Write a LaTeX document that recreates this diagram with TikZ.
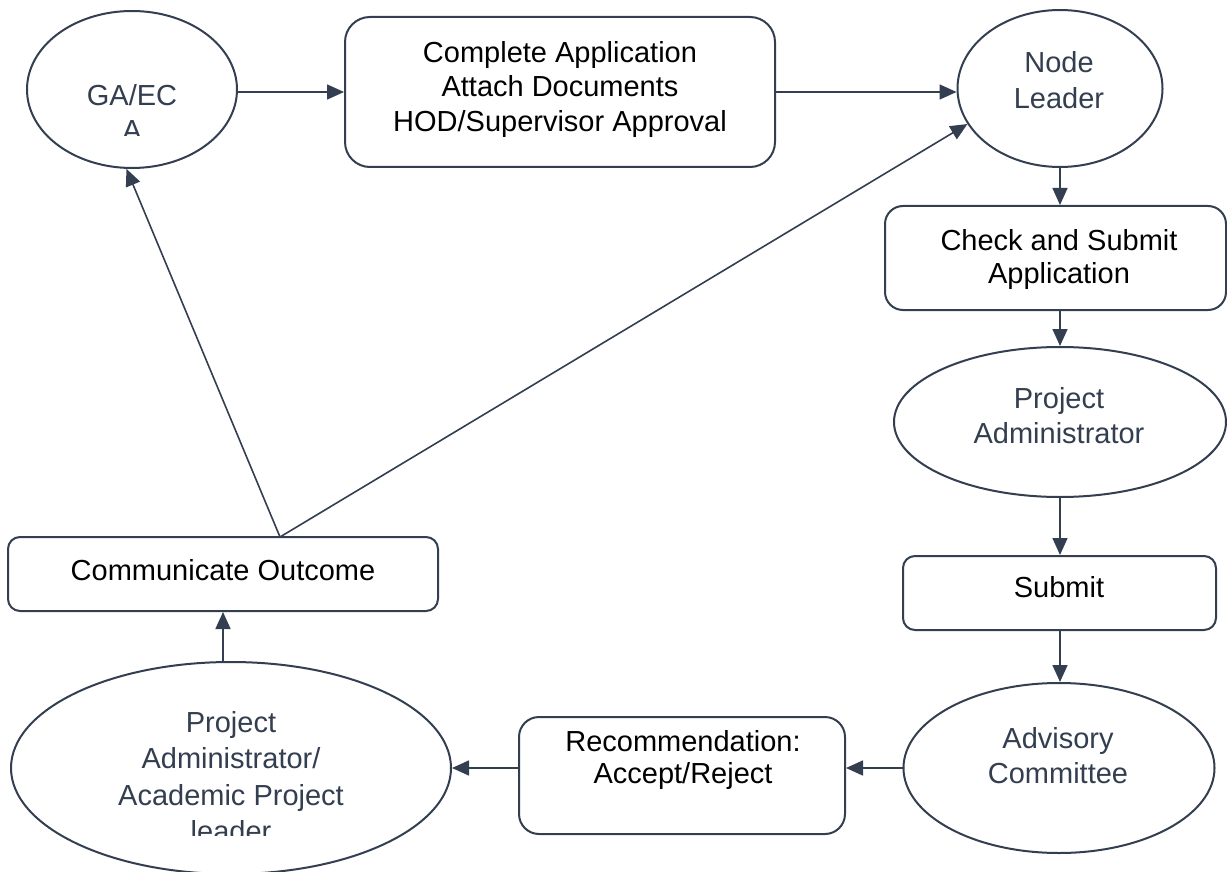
\documentclass[tikz,border=0pt]{standalone}
\usepackage{fontspec}
\setmainfont{Liberation Sans}
\usetikzlibrary{shapes.geometric,arrows.meta}
\definecolor{ln}{HTML}{333F50}
\definecolor{etxt}{HTML}{333F50}
\begin{document}
\begin{tikzpicture}[x=1pt,y=-1pt,
  box/.style={draw=ln, line width=2pt, rectangle, inner sep=0pt, fill=white},
  ell/.style={draw=ln, line width=2pt, ellipse, inner sep=0pt, fill=white},
  arr/.style={draw=ln, line width=1.6pt, -{Triangle[length=17pt,width=15pt]}},
  tx/.style={anchor=base, inner sep=0pt, font=\fontsize{29}{34}\selectfont},
  etx/.style={tx, text=etxt}]
\useasboundingbox (0,0) rectangle (1227,872);

% shapes
\node[ell, minimum width=210pt, minimum height=157pt] (ga) at (132,89.5) {};
\node[box, rounded corners=25pt, minimum width=430pt, minimum height=150pt] (app) at (560,92) {};
\node[ell, minimum width=205pt, minimum height=157pt] (nl) at (1060,88.5) {};
\node[box, rounded corners=18pt, minimum width=341pt, minimum height=104pt] (chk) at (1055.5,258) {};
\node[ell, minimum width=332pt, minimum height=150pt] (pa) at (1060,422) {};
\node[box, rounded corners=12pt, minimum width=313pt, minimum height=74pt] (sub) at (1059.5,593) {};
\node[ell, minimum width=311pt, minimum height=170pt] (adv) at (1059,768) {};
\node[box, rounded corners=20pt, minimum width=326pt, minimum height=117pt] (rec) at (682,775.5) {};
\node[ell, minimum width=440pt, minimum height=212pt] (pa2) at (231,768) {};
\node[box, rounded corners=12pt, minimum width=430pt, minimum height=74pt] (co) at (223,574) {};

% texts
\node[etx] (gat1) at (132,106) {GA/EC};
\begin{scope}
  \clip (60,100) rectangle (200,135.5);
  \node[etx] (gat2) at (132,141) {A};
\end{scope}
\node[tx] (appt1) at (560,63) {Complete Application};
\node[tx] (appt2) at (560,97) {Attach Documents};
\node[tx] (appt3) at (560,132) {HOD/Supervisor Approval};
\node[etx] (nlt1) at (1059,73) {Node};
\node[etx] (nlt2) at (1059,109) {Leader};
\node[tx] (chkt1) at (1059,250) {Check and Submit};
\node[tx] (chkt2) at (1059,283) {Application};
\node[etx] (pat1) at (1059,408) {Project};
\node[etx] (pat2) at (1059,443) {Administrator};
\node[tx] (subt) at (1059,597) {Submit};
\node[etx] (advt1) at (1058,748) {Advisory};
\node[etx] (advt2) at (1058,783) {Committee};
\node[tx] (rect1) at (683,751) {Recommendation:};
\node[tx] (rect2) at (683,783) {Accept/Reject};
\node[tx] (cot) at (223,580) {Communicate Outcome};
\node[etx] (pa2t1) at (231,732) {Project};
\node[etx] (pa2t2) at (231,768) {Administrator/};
\node[etx] (pa2t3) at (231,805) {Academic Project};
\begin{scope}
  \clip (100,800) rectangle (360,835);
  \node[etx] (pa2t4) at (231,841.5) {leader};
\end{scope}

% connectors
\coordinate (cs) at (280,537);
\draw[arr] (ga.east |- app.west) -- (app.west);
\draw[arr] (app.east) -- (nl.west |- app.east);
\draw[arr] (nl.south) -- (nl.south |- chk.north);
\draw[arr] (chk.south -| nl.south) -- (pa.north);
\draw[arr] (pa.south) -- (pa.south |- sub.north);
\draw[arr] (sub.south -| pa.south) -- (adv.north -| pa.south);
\draw[arr] (adv.west) -- (adv.west -| rec.east);
\draw[arr] (rec.west |- pa2.east) -- (pa2.east);
\draw[arr] (co.south |- pa2.north) -- (co.south);
\draw[arr] (cs) -- (ga.266);
\draw[arr] (cs) -- (nl.201);
\end{tikzpicture}
\end{document}
